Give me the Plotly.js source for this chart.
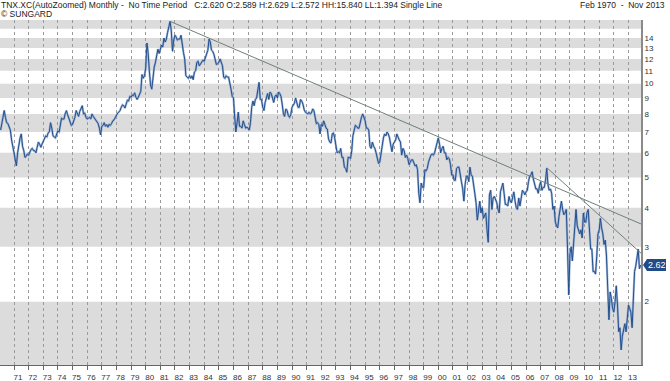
<!DOCTYPE html>
<html>
<head>
<meta charset="utf-8">
<script src="https://cdn.plot.ly/plotly-3.0.1.min.js"></script>
<style>html,body{margin:0;padding:0;background:#fff;}#chart{width:670px;height:381px;}</style>
</head>
<body>
<div id="chart"></div>
<script>
// Monthly TNX values, Feb 1970 .. Nov 2013
const startMonth = '1970-02';
const tnx1970s = [
  7.1, 7.5, 7.9, 8.2, 7.8, 7.5, 7.45, 7.3, 7.1, 6.6, 6.2,
  6.0, 5.7, 5.45, 6.0, 6.4, 6.7, 6.9, 6.3, 6.1, 5.8, 5.85, 5.95,
  5.9, 6.05, 6.15, 6.2, 6.1, 6.1, 6.0, 6.25, 6.5, 6.4, 6.25, 6.4,
  6.55, 6.75, 6.8, 6.75, 6.95, 7.0, 7.5, 7.2, 6.8, 6.75, 6.7, 6.9,
  7.05, 7.0, 7.5, 7.75, 7.7, 7.7, 8.0, 8.2, 7.95, 7.7, 7.5, 7.35,
  7.4, 7.6, 7.8, 8.2, 8.0, 7.85, 8.15, 8.4, 8.5, 8.0, 8.05, 7.8,
  7.7, 7.75, 7.8, 7.7, 8.0, 7.85, 7.75, 7.6, 7.5, 7.45, 7.2, 6.85,
  7.3, 7.35, 7.5, 7.3, 7.4, 7.25, 7.4, 7.35, 7.45, 7.6, 7.65, 7.8,
  7.95, 8.05, 8.1, 8.2, 8.4, 8.55, 8.5, 8.35, 8.6, 8.85, 8.8, 9.1,
  9.05, 9.2, 9.15, 9.35, 9.05, 8.9, 9.05, 9.3, 9.45, 10.7, 10.4, 10.6
];
const tnx1980s = [
  11.2, 13.5, 12.6, 11.0, 9.9, 9.6, 10.6, 11.3, 11.7, 12.4, 12.9, 12.5,
  12.9, 13.3, 13.1, 14.0, 13.6, 13.9, 14.6, 15.2, 15.84, 14.8, 12.7, 13.8,
  14.3, 14.1, 13.8, 13.9, 13.9, 14.3, 13.3, 12.6, 12.0, 10.6, 10.5, 10.4,
  10.6, 10.4, 10.6, 10.3, 10.9, 11.0, 11.7, 11.8, 11.4, 11.6, 11.7, 11.9,
  11.8, 12.2, 12.5, 12.8, 13.9, 13.6, 12.8, 12.7, 12.4, 11.8, 11.5, 11.6,
  11.7, 12.0, 11.6, 11.4, 10.5, 10.4, 10.6, 10.5, 10.5, 10.1, 9.6, 9.1,
  9.0, 7.8, 7.0, 7.5, 8.1, 7.3, 7.3, 7.2, 7.6, 7.4, 7.2, 7.25,
  7.2, 7.1, 7.5, 8.4, 8.8, 8.5, 8.9, 9.0, 9.7, 10.1, 8.9, 8.9,
  8.4, 8.2, 8.7, 9.0, 9.3, 8.9, 9.4, 9.3, 8.9, 8.7, 9.1, 9.2,
  9.0, 9.4, 9.3, 9.1, 8.6, 8.0, 7.85, 8.3, 8.2, 7.9, 7.8, 7.95
];
const tnx1990s = [
  8.4, 8.5, 8.65, 9.0, 8.6, 8.4, 8.4, 8.9, 8.8, 8.6, 8.25, 8.1,
  8.05, 8.0, 8.1, 8.0, 8.05, 8.3, 8.2, 7.8, 7.45, 7.5, 7.4, 6.9,
  7.4, 7.3, 7.6, 7.4, 7.2, 7.15, 6.65, 6.5, 6.45, 6.9, 6.95, 6.7,
  6.4, 6.0, 6.05, 6.0, 6.2, 5.8, 5.8, 5.4, 5.35, 5.2, 5.8, 5.8,
  5.75, 6.1, 6.8, 7.2, 7.35, 7.3, 7.2, 7.2, 7.6, 7.8, 8.0, 7.85,
  7.6, 7.2, 7.2, 7.1, 6.3, 6.2, 6.5, 6.3, 6.2, 6.0, 5.75, 5.55,
  5.6, 6.1, 6.3, 6.7, 6.9, 6.8, 7.0, 6.9, 6.7, 6.35, 6.05, 6.4,
  6.5, 6.6, 6.9, 6.7, 6.6, 6.5, 5.9, 6.2, 6.1, 5.8, 5.9, 5.75,
  5.5, 5.6, 5.7, 5.7, 5.55, 5.45, 5.5, 5.3, 4.45, 4.15, 4.8, 4.65,
  4.65, 5.3, 5.25, 5.35, 5.6, 5.8, 5.9, 5.95, 5.9, 6.0, 6.2, 6.45
];
const tnx2000s = [
  6.7, 6.4, 6.0, 6.2, 6.3, 6.0, 6.0, 5.7, 5.8, 5.75, 5.5, 5.1,
  5.1, 4.9, 4.9, 5.35, 5.4, 5.4, 5.05, 4.85, 4.6, 4.2, 4.75, 5.05,
  5.05, 4.85, 5.4, 5.1, 5.05, 4.8, 4.45, 4.15, 3.65, 3.9, 4.2, 3.85,
  4.0, 3.7, 3.8, 3.85, 3.4, 3.1, 4.4, 4.55, 3.95, 4.3, 4.35, 4.25,
  4.15, 3.95, 3.85, 4.5, 4.65, 4.8, 4.45, 4.1, 4.1, 4.05, 4.35, 4.2,
  4.15, 4.35, 4.5, 4.2, 4.0, 3.95, 4.3, 4.05, 4.3, 4.55, 4.5, 4.4,
  4.5, 4.55, 4.85, 5.05, 5.1, 5.22, 4.95, 4.75, 4.6, 4.6, 4.45, 4.7,
  4.85, 4.55, 4.65, 4.65, 4.9, 5.35, 4.75, 4.55, 4.6, 4.45, 3.95, 4.05,
  3.6, 3.5, 3.45, 3.75, 4.05, 4.2, 3.95, 3.8, 3.85, 3.95, 2.95, 2.1,
  2.85, 3.0, 2.7, 3.1, 3.45, 3.95, 3.5, 3.4, 3.3, 3.4, 3.2, 3.85
];
const tnx2010s = [
  3.6, 3.6, 3.85, 3.95, 3.3, 2.95, 2.95, 2.5, 2.5, 2.45, 2.8, 3.3,
  3.4, 3.7, 3.45, 3.3, 3.05, 3.15, 2.8, 2.2, 1.75, 2.15, 2.05, 1.9,
  1.85, 2.0, 2.25, 1.95, 1.6, 1.65, 1.40, 1.55, 1.65, 1.7, 1.6, 1.75,
  1.95, 1.9, 1.85, 1.65, 2.15, 2.5, 2.6, 2.8, 2.95, 2.55, 2.62
];
// Trendlines
const trend1Dates = ['1981-09-01', '2013-11-09'];
const trend1Values = [15.84, 3.55];
const trend2Dates = ['2007-06-01', '2013-11-09'];
const trend2Values = [5.38, 2.86];
// Y axis ticks and shaded bands
const yTickVals = [2, 3, 4, 5, 6, 7, 8, 9, 10, 11, 12, 13, 14];
const bands = [[1, 2], [3, 4], [5, 6], [7, 8], [9, 10], [11, 12], [13, 14], [15, 16]];
const headerText = 'TNX.XC(AutoZoomed) Monthly -\u00a0 No Time Period\u00a0\u00a0 C:2.620 O:2.589 H:2.629 L:2.572 HH:15.840 LL:1.394 Single Line';
const dateRangeText = 'Feb 1970\u00a0 -\u00a0 Nov 2013';
const lastLabel = '2.62';
const lastValue = 2.62;

const values = [].concat(tnx1970s, tnx1980s, tnx1990s, tnx2000s, tnx2010s);
const sy = parseInt(startMonth.slice(0, 4)), sm = parseInt(startMonth.slice(5, 7)) - 1;
const dates = values.map((v, i) => {
  const t = sm + i;
  const y = sy + Math.floor(t / 12), m = (t % 12) + 1;
  return y + '-' + (m < 10 ? '0' : '') + m + '-01';
});

const W = 670, H = 381, mL = 0, mR = 29, mT = 20, mB = 16;
const pw = W - mL - mR, ph = H - mT - mB;
const px = x => (x - mL) / pw;
const py = y => (H - mB - y) / ph;

const traces = [
  {x: dates, y: values, type: 'scatter', mode: 'lines', line: {color: 'rgba(125,156,204,0.7)', width: 2.2}, hoverinfo: 'skip', showlegend: false},
  {x: dates, y: values, type: 'scatter', mode: 'lines', line: {color: '#244f8c', width: 1}, showlegend: false},
  {x: trend1Dates, y: trend1Values, type: 'scatter', mode: 'lines', line: {color: '#6f7f79', width: 1}, showlegend: false},
  {x: trend2Dates, y: trend2Values, type: 'scatter', mode: 'lines', line: {color: '#6f7f79', width: 1}, showlegend: false}
];

const shapes = bands.map(b => ({
  type: 'rect', xref: 'paper', x0: 0, x1: 1, yref: 'y', y0: b[0], y1: b[1],
  fillcolor: '#dcdcdc', line: {width: 0}, layer: 'below'
}));
shapes.push({
  type: 'path', xref: 'paper', xsizemode: 'pixel', xanchor: 1,
  yref: 'y', ysizemode: 'pixel', yanchor: lastValue,
  path: 'M 2 0 L 6 6 L 25 6 L 25 -6 L 6 -6 Z',
  fillcolor: '#1f4b87', line: {width: 0}, layer: 'above'
});

const hdrFont = {family: 'Liberation Sans, Arial, sans-serif', size: 8.5, color: '#222'};
const annotations = [
  {xref: 'paper', yref: 'paper', x: px(0), y: py(5), xanchor: 'left', yanchor: 'middle', text: headerText, showarrow: false, font: hdrFont, borderpad: 0},
  {xref: 'paper', yref: 'paper', x: px(0), y: py(14), xanchor: 'left', yanchor: 'middle', text: '\u00a9 SUNGARD', showarrow: false, font: hdrFont, borderpad: 0},
  {xref: 'paper', yref: 'paper', x: px(666), y: py(5), xanchor: 'right', yanchor: 'middle', text: dateRangeText, showarrow: false, font: hdrFont, borderpad: 0},
  {xref: 'paper', yref: 'y', x: px(647), y: Math.log10(lastValue), xanchor: 'left', yanchor: 'middle', text: lastLabel, showarrow: false, font: {family: 'Liberation Sans, Arial, sans-serif', size: 9, color: '#ffffff'}, borderpad: 0}
];

const layout = {
  width: W, height: H,
  margin: {l: mL, r: mR, t: mT, b: mB, pad: 0},
  paper_bgcolor: '#ffffff', plot_bgcolor: '#ffffff',
  showlegend: false,
  font: {family: 'Liberation Sans, Arial, sans-serif', size: 8, color: '#333'},
  xaxis: {
    type: 'date', range: ['1970-01-16', '2013-11-09'],
    tick0: '1971-01-01', dtick: 'M12', tickformat: '%y',
    showgrid: true, gridcolor: '#9a9a9a', griddash: 'dot', gridwidth: 1,
    ticks: 'outside', ticklen: 4, tickcolor: '#666', tickwidth: 1,
    showline: true, linecolor: '#666', linewidth: 1,
    ticklabelshift: 4, tickfont: {size: 8, color: '#333'},
    zeroline: false, fixedrange: true
  },
  yaxis: {
    type: 'log', side: 'right', range: [Math.log10(1.253), Math.log10(16)],
    tickmode: 'array', tickvals: yTickVals, ticktext: yTickVals.map(String),
    showgrid: false, zeroline: false,
    showline: true, linecolor: '#8a8a8a', linewidth: 2,
    ticks: '', tickfont: {size: 8, color: '#333'}, fixedrange: true
  },
  shapes: shapes,
  annotations: annotations
};

Plotly.newPlot('chart', traces, layout, {displayModeBar: false, staticPlot: true});
</script>
</body>
</html>
